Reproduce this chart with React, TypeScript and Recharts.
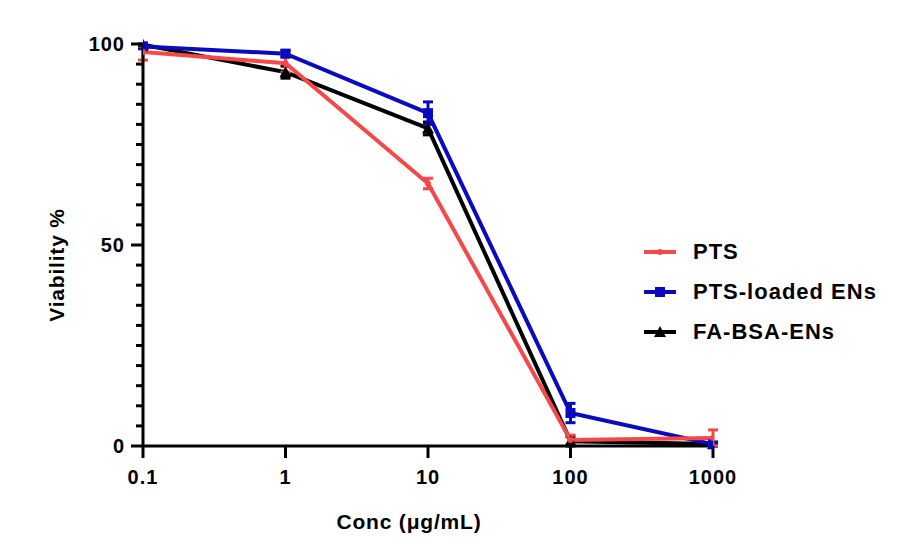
import { LineChart, Line, XAxis, YAxis, ErrorBar } from 'recharts';

const conc = [0.1, 1, 10, 100, 1000];
const xTicks = [0.1, 1, 10, 100, 1000];
const yTicks = [0, 5, 10, 15, 20, 25, 30, 35, 40, 45, 50, 55, 60, 65, 70, 75, 80, 85, 90, 95, 100];

const ptsMean = [98, 95.2, 65.3, 1.5, 2];
const ptsErr = [2, 2.2, 1.3, 1.2, 2];
const ensMean = [99.4, 97.6, 82.8, 8.2, 0.4];
const ensErr = [0.6, 0.8, 2.8, 2.4, 0.4];
const faMean = [99.8, 93.0, 79.0, 1.2, 0.5];
const faErr = [0.2, 1.5, 1.6, 1.2, 0.5];

const RED = '#F54848';
const BLUE = '#0A0ABF';
const BLACK = '#000000';
const FONT = 'Liberation Sans, Arial, sans-serif';

const data = conc.map((c, i) => ({
  conc: c,
  pts: ptsMean[i],
  ptsErr: ptsErr[i],
  ens: ensMean[i],
  ensErr: ensErr[i],
  fa: faMean[i],
  faErr: faErr[i],
}));

const circleDot = (props: any) => (
  <circle key={`c-${props.index}`} cx={props.cx} cy={props.cy} r={3} fill={RED} />
);
const squareDot = (props: any) => (
  <rect key={`s-${props.index}`} x={props.cx - 5} y={props.cy - 5} width={10} height={10} fill={BLUE} />
);
const triangleDot = (props: any) => (
  <polygon
    key={`t-${props.index}`}
    points={`${props.cx},${props.cy - 6} ${props.cx + 6},${props.cy + 5} ${props.cx - 6},${props.cy + 5}`}
    fill={BLACK}
  />
);

const YTick = (props: any) => {
  const { x, y, payload } = props;
  const major = payload.value % 50 === 0;
  const len = major ? 12 : 7;
  return (
    <g>
      <line x1={x - len} x2={x} y1={y} y2={y} stroke="#000" strokeWidth={3} />
      {major && (
        <text
          x={x - len - 6}
          y={y}
          dy={7}
          textAnchor="end"
          fontFamily={FONT}
          fontWeight="bold"
          fontSize={20}
          letterSpacing={1}
          fill="#000"
        >
          {payload.value}
        </text>
      )}
    </g>
  );
};

const legendItems = [
  { name: 'PTS', color: RED, shape: 'circle' },
  { name: 'PTS-loaded ENs', color: BLUE, shape: 'square' },
  { name: 'FA-BSA-ENs', color: BLACK, shape: 'triangle' },
];

function LegendSymbol({ color, shape }: { color: string; shape: string }) {
  return (
    <svg width={34} height={14} style={{ display: 'block' }}>
      <line x1={1} x2={33} y1={7} y2={7} stroke={color} strokeWidth={4} />
      {shape === 'circle' && <circle cx={17} cy={7} r={3} fill={color} />}
      {shape === 'square' && <rect x={12} y={2} width={10} height={10} fill={color} />}
      {shape === 'triangle' && <polygon points="17,1 23,12 11,12" fill={color} />}
    </svg>
  );
}

export default function App() {
  return (
    <div style={{ position: 'absolute', left: 0, top: 0, width: 913, height: 542, background: '#fff' }}>
      <LineChart width={913} height={542} data={data} margin={{ top: 44, right: 200, bottom: 56, left: 83 }}>
        <XAxis
          dataKey="conc"
          type="number"
          scale="log"
          domain={[0.1, 1000]}
          ticks={xTicks}
          allowDataOverflow
          height={40}
          tickSize={12}
          tickMargin={12}
          axisLine={{ stroke: '#000', strokeWidth: 3 }}
          tickLine={{ stroke: '#000', strokeWidth: 3 }}
          tick={{ fill: '#000', fontSize: 20, fontWeight: 'bold', fontFamily: FONT, letterSpacing: 1 }}
        />
        <YAxis
          type="number"
          domain={[0, 100]}
          ticks={yTicks}
          interval={0}
          width={60}
          tickSize={0}
          tickMargin={0}
          tickLine={false}
          axisLine={{ stroke: '#000', strokeWidth: 3 }}
          tick={YTick}
        />
        <Line
          dataKey="fa"
          stroke={BLACK}
          strokeWidth={4}
          dot={triangleDot}
          activeDot={false}
          isAnimationActive={false}
        >
          <ErrorBar dataKey="faErr" direction="y" width={5} stroke={BLACK} strokeWidth={3} />
        </Line>
        <Line
          dataKey="ens"
          stroke={BLUE}
          strokeWidth={4}
          dot={squareDot}
          activeDot={false}
          isAnimationActive={false}
        >
          <ErrorBar dataKey="ensErr" direction="y" width={5} stroke={BLUE} strokeWidth={3} />
        </Line>
        <Line
          dataKey="pts"
          stroke={RED}
          strokeWidth={4}
          dot={circleDot}
          activeDot={false}
          isAnimationActive={false}
        >
          <ErrorBar dataKey="ptsErr" direction="y" width={5} stroke={RED} strokeWidth={3} />
        </Line>
      </LineChart>

      <div
        style={{
          position: 'absolute',
          left: 57,
          top: 265,
          transform: 'translate(-50%, -50%) rotate(-90deg)',
          whiteSpace: 'nowrap',
          fontFamily: FONT,
          fontWeight: 'bold',
          fontSize: 21,
          letterSpacing: 0.8,
        }}
      >
        Viability %
      </div>
      <div
        style={{
          position: 'absolute',
          left: 409,
          top: 522,
          transform: 'translate(-50%, -50%)',
          whiteSpace: 'nowrap',
          fontFamily: FONT,
          fontWeight: 'bold',
          fontSize: 21,
          letterSpacing: 0.8,
        }}
      >
        Conc (μg/mL)
      </div>

      <div style={{ position: 'absolute', left: 643, top: 232 }}>
        {legendItems.map((item) => (
          <div key={item.name} style={{ display: 'flex', alignItems: 'center', height: 40 }}>
            <LegendSymbol color={item.color} shape={item.shape} />
            <span
              style={{
                marginLeft: 16,
                fontFamily: FONT,
                fontWeight: 'bold',
                fontSize: 22,
                letterSpacing: 1,
                whiteSpace: 'nowrap',
              }}
            >
              {item.name}
            </span>
          </div>
        ))}
      </div>
    </div>
  );
}
